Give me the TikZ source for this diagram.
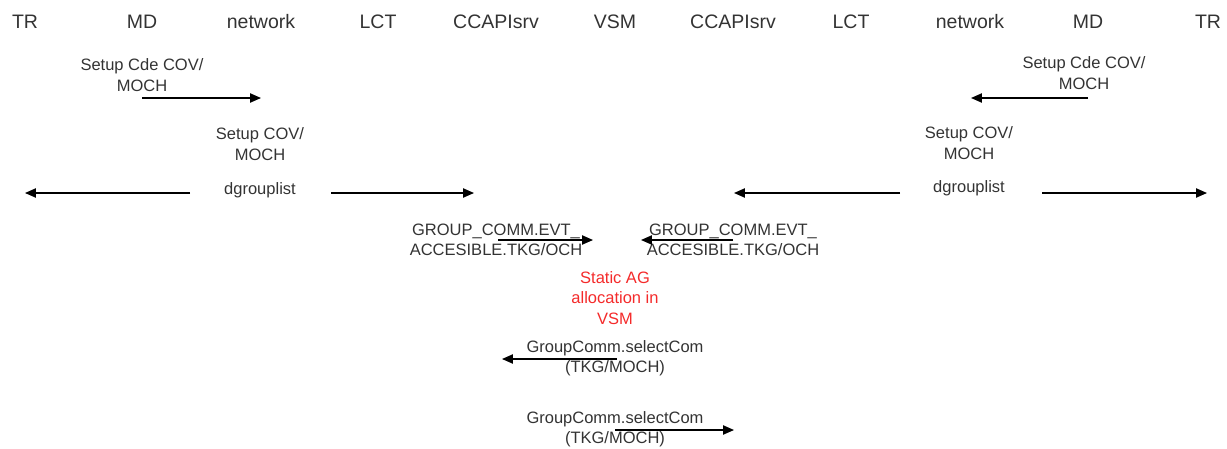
\documentclass[tikz,border=0pt]{standalone}
\usepackage{fontspec}
\setmainfont{Liberation Sans}
\usetikzlibrary{arrows.meta}
\definecolor{msgtext}{HTML}{333333}
\definecolor{notered}{HTML}{F42A2A}
\tikzset{
  lifehead/.style={text=msgtext, font=\fontsize{11.7}{14}\selectfont},
  msglabel/.style={text=msgtext, align=center, inner sep=0pt, font=\fontsize{9.9}{12.2}\selectfont},
  msgarrow/.style={black, line width=0.8pt, -{Triangle[length=6.5pt,width=5.5pt]}}
}

\begin{document}
\begin{tikzpicture}[x=0.6pt,y=-0.6pt]
        \useasboundingbox (0,0) rectangle (1227,448);

        % Lifeline headers
        \node[lifehead] (trL)  at (25, 22)   {TR};
        \node[lifehead] (mdL)  at (142, 22)  {MD};
        \node[lifehead] (netL) at (261, 22)  {network};
        \node[lifehead] (lctL) at (378, 22)  {LCT};
        \node[lifehead] (ccL)  at (496, 22)  {CCAPIsrv};
        \node[lifehead] (vsm)  at (615, 22)  {VSM};
        \node[lifehead] (ccR)  at (733, 22)  {CCAPIsrv};
        \node[lifehead] (lctR) at (851, 22)  {LCT};
        \node[lifehead] (netR) at (970, 22)  {network};
        \node[lifehead] (mdR)  at (1088, 22) {MD};
        \node[lifehead] (trR)  at (1208, 22) {TR};

        % Setup Cde COV/MOCH
        \node[msglabel] (cdeL) at (142, 75) {Setup Cde COV/\\MOCH};
        \coordinate (cdeLa) at (142, 98);
        \coordinate (cdeLb) at (261, 98);
        \draw[msgarrow] (cdeLa) -- (cdeLb);
        \node[msglabel] (cdeR) at (1084, 73) {Setup Cde COV/\\MOCH};
        \coordinate (cdeRa) at (1088, 98);
        \coordinate (cdeRb) at (971, 98);
        \draw[msgarrow] (cdeRa) -- (cdeRb);

        % Setup COV/MOCH
        \node[msglabel] (covL) at (260, 144) {Setup COV/\\MOCH};
        \node[msglabel] (covR) at (969, 143) {Setup COV/\\MOCH};

        % dgrouplist
        \node[msglabel] (dgL) at (260, 190) {dgrouplist};
        \coordinate (dgL1a) at (190, 193);
        \coordinate (dgL1b) at (25, 193);
        \coordinate (dgL2a) at (331, 193);
        \coordinate (dgL2b) at (474, 193);
        \draw[msgarrow] (dgL1a) -- (dgL1b);
        \draw[msgarrow] (dgL2a) -- (dgL2b);
        \node[msglabel] (dgR) at (969, 188) {dgrouplist};
        \coordinate (dgR1a) at (900, 193);
        \coordinate (dgR1b) at (734, 193);
        \coordinate (dgR2a) at (1042, 193);
        \coordinate (dgR2b) at (1207, 193);
        \draw[msgarrow] (dgR1a) -- (dgR1b);
        \draw[msgarrow] (dgR2a) -- (dgR2b);

        % GROUP_COMM.EVT_ACCESIBLE
        \node[msglabel] (evtL) at (496, 240) {GROUP\_COMM.EVT\_\\ACCESIBLE.TKG/OCH};
        \coordinate (evtLa) at (498, 240);
        \coordinate (evtLb) at (593, 240);
        \draw[msgarrow] (evtLa) -- (evtLb);
        \node[msglabel] (evtR) at (733, 240) {GROUP\_COMM.EVT\_\\ACCESIBLE.TKG/OCH};
        \coordinate (evtRa) at (733, 240);
        \coordinate (evtRb) at (641, 240);
        \draw[msgarrow] (evtRa) -- (evtRb);

        % Static allocation note
        \node[msglabel, text=notered] (agnote) at (615, 298) {Static AG\\allocation in\\VSM};

        % GroupComm.selectCom
        \node[msglabel] (selA) at (615, 358) {GroupComm.selectCom\\(TKG/MOCH)};
        \coordinate (selAa) at (617, 359);
        \coordinate (selAb) at (502, 359);
        \draw[msgarrow] (selAa) -- (selAb);
        \node[msglabel] (selB) at (615, 429) {GroupComm.selectCom\\(TKG/MOCH)};
        \coordinate (selBa) at (615, 430);
        \coordinate (selBb) at (734, 430);
        \draw[msgarrow] (selBa) -- (selBb);
\end{tikzpicture}
\end{document}
